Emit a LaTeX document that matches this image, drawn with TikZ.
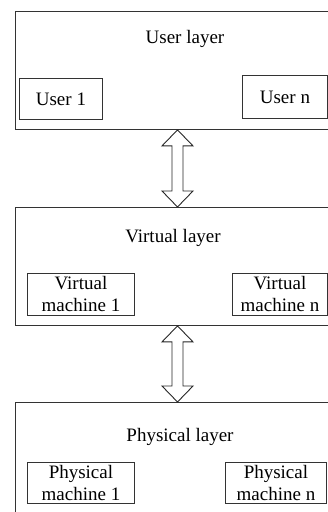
\documentclass[tikz,border=0pt]{standalone}
\usepackage{fontspec}
\setmainfont{Liberation Serif}
\begin{document}
\begin{tikzpicture}[x=1pt,y=-1pt,
  every node/.style={font=\fontsize{19}{22}\selectfont, inner sep=0pt},
  layerbox/.style={draw=black!80, line width=0.9pt, anchor=north west, minimum width=314pt},
  itembox/.style={draw=black!80, line width=0.9pt, anchor=north west, align=center},
  title/.style={anchor=base},
  dblarrow/.style={draw=black!85, line width=0.9pt, fill=white, line join=miter}]
\useasboundingbox (0,0) rectangle (328,512);
% layers
\node[layerbox, minimum height=118pt] (ul) at (15,11) {};
\node[layerbox, minimum height=118pt] (vl) at (15,207) {};
\node[layerbox, minimum height=130pt] (pl) at (15,402) {};
% titles
\node[title] (ult) at (185,43) {User layer};
\node[title] (vlt) at (173,242) {Virtual layer};
\node[title] (plt) at (180,441) {Physical layer};
% user items
\node[itembox, minimum width=83pt, minimum height=41pt] (u1) at (19,78) {User 1};
\node[itembox, minimum width=85pt, minimum height=43pt] (un) at (242,75) {User n};
% virtual items
\node[itembox, minimum width=107pt, minimum height=42pt] (v1) at (27,273) {Virtual\\machine 1};
\node[itembox, minimum width=95pt, minimum height=42pt] (vn) at (232,273) {Virtual\\machine n};
% physical items
\node[itembox, minimum width=107pt, minimum height=41pt] (p1) at (27,462) {Physical\\machine 1};
\node[itembox, minimum width=101pt, minimum height=41pt] (pn) at (225,462) {Physical\\machine n};
% arrows
\coordinate (a1t) at (ul.south -| 177.5,0);
\coordinate (a1b) at (vl.north -| 177.5,0);
\coordinate (a2t) at (vl.south -| 177.5,0);
\coordinate (a2b) at (pl.north -| 177.5,0);
\draw[dblarrow] (a1t) -- ++(15.5,16) -- ++(-10,0) -- ([xshift=5.5pt,yshift=16pt]a1b) -- ([xshift=15.5pt,yshift=16pt]a1b) -- (a1b)
  -- ([xshift=-15.5pt,yshift=16pt]a1b) -- ([xshift=-5.5pt,yshift=16pt]a1b) -- ([xshift=-5.5pt,yshift=-16pt]a1t) -- ([xshift=-15.5pt,yshift=-16pt]a1t) -- cycle;
\draw[dblarrow] (a2t) -- ++(15.5,16) -- ++(-10,0) -- ([xshift=5.5pt,yshift=16pt]a2b) -- ([xshift=15.5pt,yshift=16pt]a2b) -- (a2b)
  -- ([xshift=-15.5pt,yshift=16pt]a2b) -- ([xshift=-5.5pt,yshift=16pt]a2b) -- ([xshift=-5.5pt,yshift=-16pt]a2t) -- ([xshift=-15.5pt,yshift=-16pt]a2t) -- cycle;
\end{tikzpicture}
\end{document}
